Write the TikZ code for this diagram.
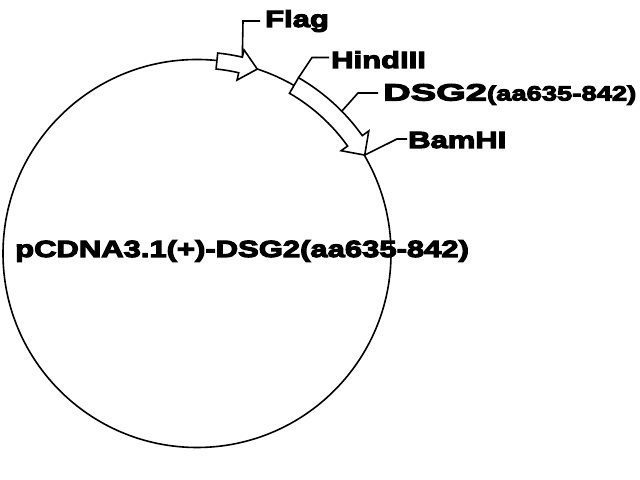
\documentclass[tikz,border=0pt]{standalone}
\usepackage{fontspec}
\usetikzlibrary{calc}
\newfontfamily\lab{Liberation Sans Bold}[FakeStretch=1.33,FakeBold=5]
\begin{document}
\begin{tikzpicture}[x=1bp,y=1bp,
  lbl/.style={inner sep=0pt, anchor=base west, font=\lab\fontsize{23.3bp}{26bp}\selectfont},
  ring/.style={line width=1.6bp},
  feat/.style={line width=1.6bp, fill=white, line join=miter},
  leader/.style={line width=1.6bp}]
\useasboundingbox (0,0) rectangle (640,480);
\coordinate (C) at (197,226.5);
\draw[ring] (C) circle[radius=194];
% Flag arrow
\draw[feat] ([shift={(84.1:201.5)}]C) arc[start angle=84.1, end angle=77, radius=201.5] coordinate (flagtop)
  -- ([shift={(77:209)}]C) -- ([shift={(71.9:194)}]C) -- ([shift={(77:178)}]C)
  -- ([shift={(77:185.5)}]C) arc[start angle=77, end angle=84.1, radius=185.5] -- cycle;
% DSG2 arrow
\draw[feat] ([shift={(60:203)}]C) coordinate (dsgstart) arc[start angle=60, end angle=35.5, radius=203]
  -- ([shift={(35.5:211)}]C) -- ([shift={(30.4:194.5)}]C) coordinate (dsgtip) -- ([shift={(35.5:177)}]C)
  -- ([shift={(35.5:185)}]C) arc[start angle=35.5, end angle=60, radius=185] -- cycle;
\coordinate (dsgmid) at ([shift={(44.5:203)}]C);
% labels
\node[lbl] (flag) at (265,453) {Flag};
\node[lbl] (hind) at (331,412) {HindIII};
\node[lbl, font=\lab] (dsg) at (383,379.5) {{\fontsize{23.5bp}{26bp}\selectfont\scalebox{1.22}[1]{DSG2}}{\fontsize{20.6bp}{24bp}\selectfont(aa635-842)}};
\node[lbl] (bam) at (408,332) {BamHI};
\node[lbl] (plasmid) at (15,223) {pCDNA3.1(+)-DSG2(aa635-842)};
% leaders
\draw[leader] (flagtop) -- (243,459) -- ($(flag.base west)+(-5,6)$);
\draw[leader] (dsgstart) -- (312,422.5) -- ($(hind.base west)+(-2,10.5)$);
\draw[leader] (dsgmid) -- (358,387) -- ($(dsg.base west)+(-5,7.5)$);
\draw[leader] (dsgtip) -- (397,341) -- ($(bam.base west)+(-1,9)$);
\end{tikzpicture}
\end{document}
